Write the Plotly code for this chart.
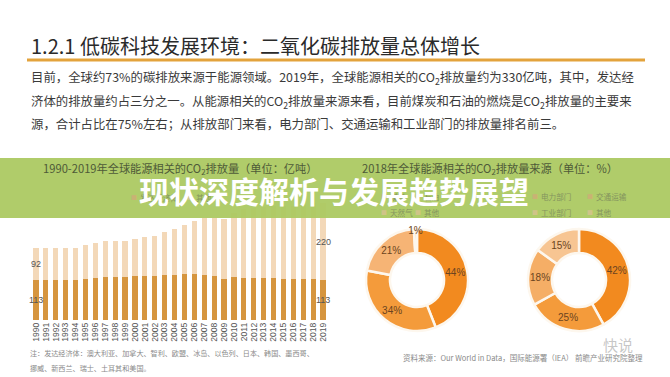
import plotly.graph_objects as go

# ---------------- data ----------------
years = list(range(1990, 2020))
developed = [113, 113, 113, 113, 115, 117, 120, 123, 123, 123, 126, 126, 125, 128, 129,
             130, 130, 129, 126, 118, 123, 121, 120, 120, 119, 117, 117, 117, 117, 113]
others = [92, 93, 93, 91, 91, 98, 99, 101, 101, 103, 106, 110, 115, 122, 131,
          141, 152, 161, 164, 170, 181, 195, 198, 203, 206, 208, 208, 211, 217, 220]
year_labels = [str(y) for y in years]

fuel_labels = ["煤炭", "石油", "天然气", "其他"]
fuel_values = [44, 34, 21, 1]
sector_labels = ["电力部门", "交通运输", "工业部门", "其他"]
sector_values = [42, 25, 18, 15]

title_text = "1.2.1 低碳科技发展环境：二氧化碳排放量总体增长"
body_lines = [
    "目前，全球约73%的碳排放来源于能源领域。2019年，全球能源相关的CO<sub>2</sub>排放量约为330亿吨，其中，发达经",
    "济体的排放量约占三分之一。从能源相关的CO<sub>2</sub>排放量来源来看，目前煤炭和石油的燃烧是CO<sub>2</sub>排放量的主要来",
    "源，合计占比在75%左右；从排放部门来看，电力部门、交通运输和工业部门的排放量排名前三。",
]
banner_text = "现状深度解析与发展趋势展望"
bar_title = "1990-2019年全球能源相关的CO<sub>2</sub>排放量（单位：亿吨）"
pie_title = "2018年全球能源相关的CO<sub>2</sub>排放量来源（单位：%）"
bar_legend = ["发达经济体", "其他"]
note_lines = [
    "注：发达经济体：澳大利亚、加拿大、智利、欧盟、冰岛、以色列、日本、韩国、墨西哥、",
    "挪威、新西兰、瑞士、土耳其和美国。",
]
source_text = "资料来源：Our World in Data，国际能源署（IEA） 前瞻产业研究院整理"

# ---------------- style ----------------
W, H = 670, 377
FONT = "Noto Sans CJK SC"
NUMFONT = "Liberation Sans, Arial"
DARK_BAR = "#D6953E"
LIGHT_BAR = "#F3D8B8"
fuel_colors = ["#F28A1F", "#F49B3B", "#F6B475", "#FAD8AE"]
sector_colors = ["#F28A1F", "#F49B3B", "#F5AE66", "#F7C592"]
DY = 1  # small vertical correction for CJK text boxes


def px(x):
    return x / W


def py(y):
    return 1 - y / H


fig = go.Figure()

fig.add_trace(go.Bar(x=years, y=developed, name=bar_legend[0], marker_color=DARK_BAR,
                     marker_line_width=0, showlegend=False, hoverinfo="skip"))
fig.add_trace(go.Bar(x=years, y=others, name=bar_legend[1], marker_color=LIGHT_BAR,
                     marker_line_width=0, showlegend=False, hoverinfo="skip"))

pie_common = dict(hole=0.53, sort=False, direction="clockwise", rotation=0,
                  texttemplate="%{value}%", textposition="inside",
                  insidetextorientation="horizontal",
                  textfont=dict(family=NUMFONT, size=10, color="#6B4420"),
                  showlegend=False, hoverinfo="skip")

fig.add_trace(go.Pie(labels=fuel_labels, values=fuel_values,
                     marker=dict(colors=fuel_colors, line=dict(color="#FDF7EE", width=2.5)),
                     domain=dict(x=[px(366), px(468)], y=[py(331), py(229)]),
                     **pie_common))
fig.add_trace(go.Pie(labels=sector_labels, values=sector_values,
                     marker=dict(colors=sector_colors, line=dict(color="#FDF7EE", width=2.5)),
                     domain=dict(x=[px(528), px(630)], y=[py(331), py(229)]),
                     **pie_common))

annotations = []


def txt(x, y, text, size, color, anchor="left", family=FONT, ref="paper", dy=DY):
    annotations.append(dict(
        x=px(x) if ref == "paper" else x,
        y=py(y + dy) if ref == "paper" else y,
        xref="paper" if ref == "paper" else "x",
        yref="paper" if ref == "paper" else "y",
        text=text, showarrow=False, xanchor=anchor, yanchor="middle",
        font=dict(family=family, size=size, color=color)))


# header
txt(29, 45, title_text, 20, "#2A2A2A")
for i, line in enumerate(body_lines):
    txt(29, 77 + i * 23, line, 12.4, "#3A3A3A")

# bar value labels (data anchored)
txt(years[0], developed[0] + others[0] / 2, str(others[0]), 9, "#555555", anchor="center", family=NUMFONT, ref="data")
txt(years[0], developed[0] / 2, str(developed[0]), 9, "#555555", anchor="center", family=NUMFONT, ref="data")
txt(years[-1], developed[-1] + others[-1] / 2, str(others[-1]), 9, "#555555", anchor="center", family=NUMFONT, ref="data")
txt(years[-1], developed[-1] / 2, str(developed[-1]), 9, "#555555", anchor="center", family=NUMFONT, ref="data")

# chart titles inside banner
txt(180, 167, bar_title, 11.2, "#4E5A38", anchor="center")
txt(490, 167, pie_title, 11.2, "#4E5A38", anchor="center")

# legends (partly covered by banner text)
leg_col = "#84945E"
mk1, mk2 = "#C9B274", "#CFC488"


def legend_item(x, y, label, mcol):
    txt(x, y, "■", 6, mcol, anchor="center")
    txt(x + 4, y, label, 7.6, leg_col)


legend_item(134, 197, bar_legend[0], mk1)
legend_item(190, 197, bar_legend[1], mk2)
legend_item(384, 195, fuel_labels[0], mk1)
legend_item(418, 195, fuel_labels[1], mk1)
legend_item(384, 211, fuel_labels[2], mk2)
legend_item(418, 211, fuel_labels[3], mk2)
legend_item(535, 195, sector_labels[0], mk1)
legend_item(590, 195, sector_labels[1], mk1)
legend_item(535, 211, sector_labels[2], mk2)
legend_item(590, 211, sector_labels[3], mk2)

# big banner text (on top)
txt(334, 190, "<b>%s</b>" % banner_text, 30, "#FFFFFF", anchor="center", dy=0)

# footnotes
txt(28, 352, note_lines[0], 7.1, "#8A8A8A")
txt(28, 367, note_lines[1], 7.1, "#8A8A8A")
txt(401, 356, source_text, 7.5, "#8A8A8A")
txt(618, 343, "快说", 15, "rgba(150,150,150,0.55)", anchor="center")

shapes = [
    dict(type="line", xref="paper", yref="paper", x0=px(27), x1=px(645), y0=py(60), y1=py(60),
         line=dict(color="#E3A33C", width=3), layer="above"),
    dict(type="rect", xref="paper", yref="paper", x0=0, x1=1, y0=py(218), y1=py(158),
         fillcolor="rgba(171,201,97,0.94)", line=dict(width=0), layer="above"),
]

fig.update_layout(
    width=W, height=H, margin=dict(l=0, r=0, t=0, b=0),
    paper_bgcolor="#FFFFFF", plot_bgcolor="rgba(0,0,0,0)",
    barmode="stack", bargap=0.48,
    font=dict(family=FONT, color="#444"),
    annotations=annotations, shapes=shapes,
    uniformtext=dict(minsize=9.5, mode="show"),
    xaxis=dict(domain=[px(31), px(328)], range=[1989.5, 2019.5],
               tickmode="array", tickvals=years, ticktext=year_labels,
               tickangle=-90, tickfont=dict(family=NUMFONT, size=8.6, color="#555"),
               showgrid=False, zeroline=False, showline=False, ticks=""),
    yaxis=dict(domain=[py(320), py(193.7)], range=[0, 360], visible=False,
               showgrid=False, zeroline=False),
)

fig.write_html("out.html", config={"displayModeBar": False, "staticPlot": True},
               post_script="document.body.style.margin='0px';document.body.style.overflow='hidden';")
